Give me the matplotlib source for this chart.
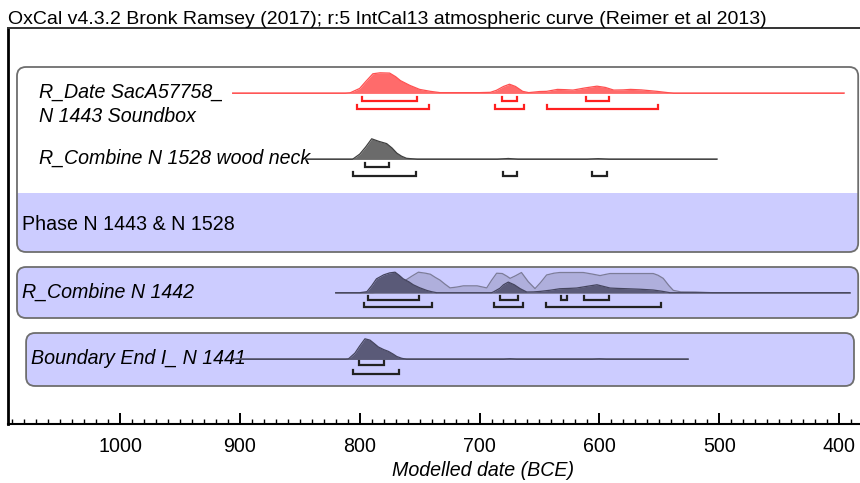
"""
OxCal style multi-plot: calibrated / modelled date distributions.
"""

import numpy as np
import matplotlib
matplotlib.use("Agg")
import matplotlib.pyplot as plt
from matplotlib.patches import FancyBboxPatch, Rectangle
from matplotlib.ticker import MultipleLocator

# ---- data (years BCE, relative probability) ----
r_date_years = [906, 812, 808, 800, 795, 789, 783, 775, 770, 766, 758, 750, 741, 733,
                700, 691, 686, 680, 675, 670, 664, 659, 650, 644, 635, 628, 622, 612,
                602, 595, 588, 580, 574, 565, 552, 538, 396]
r_date_prob = [0, 0, 0.5, 5, 12, 20, 21, 20.7, 17, 13, 8, 4, 2, 0.7,
               0.7, 1, 3, 7, 9.3, 7, 2, 0.7, 1.8, 2, 4, 3.7, 3.3, 5.5,
               7.3, 6, 3.3, 3.5, 4, 3.5, 2, 0, 0]
r_date_68 = [(798, 752), (681.5, 668.5), (611, 592)]
r_date_95 = [(802, 742), (687, 663), (644, 551)]

wood_years = [845, 806, 800, 795, 790, 784, 777.5, 773, 769, 765, 761, 752,
              685, 676, 668, 610, 601, 592, 502]
wood_prob = [0, 0, 5, 12, 20, 17.5, 15.3, 11, 6, 3, 1, 0,
             0, 0.8, 0, 0, 0.6, 0, 0]
wood_68 = [(795.6, 775.3)]
wood_95 = [(806, 753), (680, 668.5), (606, 594)]

n1442_like_years = [820, 790, 780, 775, 769, 762, 756, 751, 745, 741, 737, 733, 729,
                    724.6, 719, 713.5, 702, 694, 690, 685.7, 681, 677, 674.5, 670,
                    665, 659.3, 653.7, 649, 644, 638, 633, 620, 613.4, 606, 599.4,
                    595, 591, 570, 555, 551, 546.7, 542, 538.3, 532, 520, 510, 505, 391]
n1442_like_prob = [0, 0, 1, 3.5, 7.3, 12, 16.5, 20, 19, 18, 15, 12.3, 8.5,
                   4.7, 5.5, 6.7, 6.7, 4.7, 12, 19, 18.7, 16, 14, 16.5,
                   19.7, 10.7, 4, 10, 17.3, 19, 19.7, 19.7, 19.7, 18.2, 16.7,
                   17.8, 18.7, 18.7, 18.7, 17, 14, 7, 2.3, 0.8, 0.7, 0.2, 0, 0]
n1442_post_years = [820, 800, 794, 790, 786, 780, 775, 770.5, 767, 763.7, 759, 755.3,
                    750, 744, 740, 735.8, 690, 688.5, 683, 680, 676, 671, 666, 660.6,
                    655, 649.5, 641, 633, 626, 619, 610, 602, 597, 591, 584, 577,
                    566, 555, 548, 541, 391]
n1442_post_prob = [0, 0, 1, 7, 14, 18, 20, 20.7, 17.5, 14, 11, 8,
                   5, 2.3, 1, 0, 0, 0.7, 4.5, 8, 10.7, 8, 4, 0.7,
                   0.8, 1.3, 2.5, 4, 4.3, 4.7, 6.5, 8, 6.5, 4.7, 4.3, 4,
                   3.5, 2.7, 1.5, 0, 0]
n1442_68 = [(793, 750.5), (683, 667.6), (631.6, 626.8), (612.5, 592)]
n1442_95 = [(796, 739.4), (688, 663.5), (644.9, 548.9)]

boundary_years = [906, 812, 809.5, 804, 800, 795.6, 791.4, 788, 784.4, 780, 776, 772,
                  769, 765, 760.8, 680, 674.5, 669, 606, 600, 594, 526]
boundary_prob = [0, 0, 0.3, 6, 13, 20, 18.7, 15.5, 12, 9.5, 7.7, 5,
                 2.7, 1, 0, 0, 0.5, 0, 0, 0.4, 0, 0]
boundary_68 = [(800.5, 779.7)]
boundary_95 = [(806, 767)]

major_ticks = [1000, 900, 800, 700, 600, 500, 400]

TITLE = "OxCal v4.3.2 Bronk Ramsey (2017); r:5 IntCal13 atmospheric curve (Reimer et al 2013)"

plt.rcParams["font.family"] = ["Liberation Sans", "DejaVu Sans"]

PX_PER_YEAR = 1.1983   # horizontal scale of the reference
PEAK = 20.5            # pixel height of a full distribution
BLUE = "#ccccff"
EDGE = "#6e6e6e"
FS = 14.1


def draw_dist(ax, years, prob, base, fill, edge, z=3):
    p = np.asarray(prob, float)
    h = p / p.max() * PEAK
    ax.fill_between(years, base, base - h, color=fill, lw=0, zorder=z)
    ax.plot(years, base - h, color=edge, lw=0.9, zorder=z + 0.1)


def draw_brackets(ax, ranges, y, color):
    for a, b in ranges:
        ax.plot([a, a, b, b], [y - 4, y, y, y - 4], color=color, lw=1.6,
                solid_joinstyle="miter", zorder=5)


def rbox(ax, x0, x1, y0, y1, fc, ec="none", lw=1.3, z=1):
    r = 9
    ax.add_patch(FancyBboxPatch((x1, y0), x0 - x1, y1 - y0,
                                boxstyle=f"round,pad=0,rounding_size={r / PX_PER_YEAR}",
                                mutation_aspect=PX_PER_YEAR,
                                fc=fc, ec=ec, lw=lw, zorder=z))


fig = plt.figure(figsize=(8.6, 4.83), dpi=100)
ax = fig.add_axes([8 / 860, 1 - 424 / 483, 950 / 860, 396 / 483])
ax.set_xlim(1093.5, 300.7)
ax.set_ylim(424, 28)

# boxes
L1, R1 = 1086, 384
rbox(ax, L1, R1, 67, 252, BLUE)
rbox(ax, L1, R1, 67, 213, "white", z=1.1)
ax.add_patch(Rectangle((R1, 193), L1 - R1, 20, fc=BLUE, ec="none", zorder=1.2))
rbox(ax, L1, R1, 67, 252, "none", EDGE, z=1.3)
rbox(ax, L1, R1, 267, 318, BLUE, EDGE)
rbox(ax, 1078.4, 387.5, 333, 386, BLUE, EDGE)

# row 1: R_Date (red)
b1 = 93.3
ax.plot([r_date_years[0], r_date_years[-1]], [b1, b1], color="#ffa3a3", lw=1.3, zorder=2)
draw_dist(ax, r_date_years, r_date_prob, b1, "#ff6b6b", "#ff5050")
draw_brackets(ax, r_date_68, b1 + 8, "#ff2020")
draw_brackets(ax, r_date_95, b1 + 16, "#ff2020")

# row 2: R_Combine wood neck
b2 = 159.3
ax.plot([wood_years[0], wood_years[-1]], [b2, b2], color="#8a8a8a", lw=1.1, zorder=2)
draw_dist(ax, wood_years, wood_prob, b2, "#6b6b6b", "#404040")
draw_brackets(ax, wood_68, b2 + 7.5, "#222222")
draw_brackets(ax, wood_95, b2 + 16.5, "#222222")

# row 4: R_Combine N 1442
b4 = 292.7
ax.plot([n1442_like_years[0], n1442_like_years[-1]], [b4, b4], color="#707080", lw=1.1, zorder=2)
draw_dist(ax, n1442_like_years, n1442_like_prob, b4, "#afafdc", "#7c7c98")
draw_dist(ax, n1442_post_years, n1442_post_prob, b4, "#5a5a78", "#45455e", z=3.5)
draw_brackets(ax, n1442_68, b4 + 7, "#222222")
draw_brackets(ax, n1442_95, b4 + 14.5, "#222222")

# row 5: Boundary
b5 = 359.3
ax.plot([boundary_years[0], boundary_years[-1]], [b5, b5], color="#666677", lw=1.1, zorder=2)
draw_dist(ax, boundary_years, boundary_prob, b5, "#5a5a78", "#45455e")
draw_brackets(ax, boundary_68, b5 + 6, "#222222")
draw_brackets(ax, boundary_95, b5 + 14.5, "#222222")

# labels
ax.text(1067.6, 92, "R_Date SacA57758_", style="italic", fontsize=FS,
        va="center", ha="left", zorder=6)
ax.text(1067.6, 117, "N 1443 Soundbox", style="italic", fontsize=FS,
        va="center", ha="left", zorder=6)
ax.text(1067.6, 158, "R_Combine N 1528 wood neck", style="italic", fontsize=FS,
        va="center", ha="left", zorder=1.5)
ax.text(1081.8, 225, "Phase N 1443 & N 1528", fontsize=FS, va="center", ha="left", zorder=6)
ax.text(1081.8, 292, "R_Combine N 1442", style="italic", fontsize=FS,
        va="center", ha="left", zorder=6)
ax.text(1074.3, 358, "Boundary End I_ N 1441", style="italic", fontsize=FS,
        va="center", ha="left", zorder=1.5)

# axes
ax.xaxis.set_major_locator(MultipleLocator(100))
ax.xaxis.set_minor_locator(MultipleLocator(10))
ax.set_xticks(major_ticks)
ax.set_yticks([])
ax.tick_params(axis="x", which="major", direction="in", length=8, width=1.4,
               labelsize=FS, pad=9)
ax.tick_params(axis="x", which="minor", direction="in", length=3.5, width=1.0)
ax.set_xlabel("Modelled date (BCE)", fontsize=FS, style="italic", labelpad=4)
ax.spines["left"].set_linewidth(2)
ax.spines["bottom"].set_linewidth(1.5)
ax.spines["top"].set_linewidth(1.4)
ax.spines["top"].set_color("#333333")
ax.spines["right"].set_visible(False)
ax.set_title(TITLE, loc="left", fontsize=14.0, pad=2)

fig.savefig("out.png", dpi=100)
